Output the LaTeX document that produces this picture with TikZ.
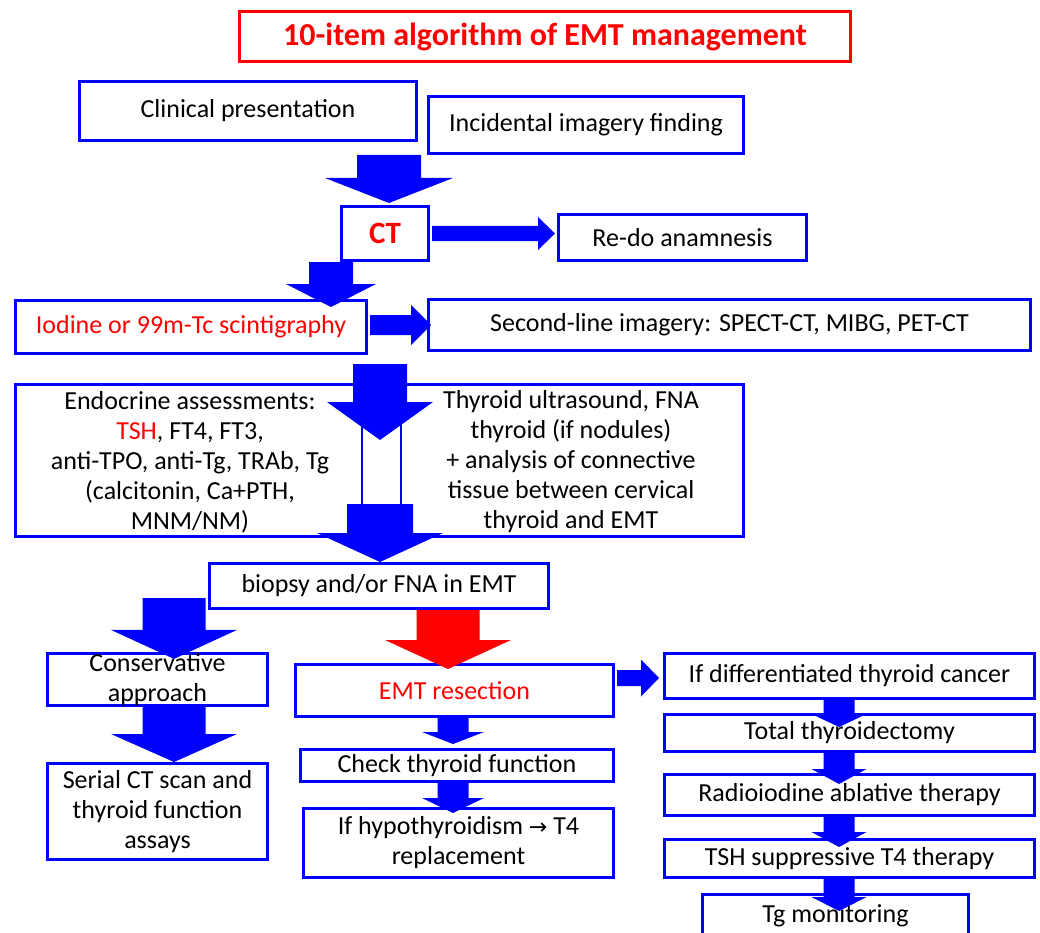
\documentclass[tikz,border=0pt]{standalone}
\usepackage{fontspec}
\setmainfont{Carlito}
\newfontfamily\symfont{DejaVu Sans}
\usetikzlibrary{calc}

\newcommand{\boxfont}{\fontsize{26}{30}\selectfont}

\tikzset{
  flowbox/.style={draw=blue, line width=3pt, fill=white, align=center, inner sep=1pt, font=\boxfont},
  titlebox/.style={draw=red, line width=3pt, fill=white, text=red, inner sep=1pt, font=\fontsize{32}{36}\selectfont\bfseries},
  plaintext/.style={align=center, inner sep=0pt, font=\boxfont},
  shaftline/.style={draw=blue, line width=2.5pt},
}

% block arrows: #2 tail, #3 tip, #4 half shaft, #5 half head, #6 head length
\newcommand{\fatdown}[6][blue]{%
  \fill[#1] let \p1=#2, \p2=#3 in
    (\x2-#4,\y1) -- (\x2+#4,\y1) -- (\x2+#4,\y2+#6) -- (\x2+#5,\y2+#6)
    -- (\x2,\y2) -- (\x2-#5,\y2+#6) -- (\x2-#4,\y2+#6) -- cycle;}
\newcommand{\fatright}[6][blue]{%
  \fill[#1] let \p1=#2, \p2=#3 in
    (\x1,\y2+#4) -- (\x1,\y2-#4) -- (\x2-#6,\y2-#4) -- (\x2-#6,\y2-#5)
    -- (\x2,\y2) -- (\x2-#6,\y2+#5) -- (\x2-#6,\y2+#4) -- cycle;}

\begin{document}
\begin{tikzpicture}[x=1pt, y=-1pt]
\useasboundingbox (0,0) rectangle (1040,933);
\clip (0,0) rectangle (1040,933);

% title
\node[titlebox, minimum width=611pt, minimum height=50pt] (title) at (545,36.5) {10-item algorithm of EMT management};

% first steps
\node[flowbox, minimum width=337pt, minimum height=59pt] (clin) at (248,111) {Clinical presentation};
\node[flowbox, minimum width=315pt, minimum height=57pt] (incid) at (586,125) {Incidental imagery finding};
\node[flowbox, minimum width=87pt, minimum height=54pt, font=\fontsize{31}{34}\selectfont\bfseries, text=red] (ct) at (385,233.5) {CT};
\node[flowbox, minimum width=248pt, minimum height=46pt] (redo) at (682.5,237.5) {Re-do anamnesis};
\node[flowbox, minimum width=351pt, minimum height=53pt, text=red] (iodine) at (191,327) {Iodine or 99m-Tc scintigraphy};
\node[flowbox, minimum width=602pt, minimum height=51pt] (second) at (729.5,325) {Second-line imagery: SPECT-CT, MIBG, PET-CT};

% assessments
\node[flowbox, minimum width=728pt, minimum height=152pt] (assess) at (379.5,460.5) {};
\node[plaintext] (endo) at (190,462) {Endocrine assessments:\\ \textcolor{red}{TSH}, FT4, FT3,\\ anti-TPO, anti-Tg, TRAb, Tg\\ (calcitonin, Ca+PTH,\\ MNM/NM)};
\node[plaintext] (thyr) at (571,462) {Thyroid ultrasound, FNA\\ thyroid (if nodules)\\ + analysis of connective\\ tissue between cervical\\ thyroid and EMT};
\node[flowbox, minimum width=339pt, minimum height=45pt] (biopsy) at (379,586) {biopsy and/or FNA in EMT};

% left branch
\node[flowbox, minimum width=220pt, minimum height=52pt, inner sep=0pt] (cons) at (157.5,679.5) {Conservative\\ approach};
\node[flowbox, minimum width=220pt, minimum height=96pt] (serial) at (157.5,811.5) {Serial CT scan and\\ thyroid function\\ assays};

% middle branch
\node[flowbox, minimum width=318pt, minimum height=52pt, text=red] (emtres) at (454.5,690.5) {EMT resection};
\node[flowbox, minimum width=313pt, minimum height=32pt, inner sep=0pt] (check) at (457,765.5) {Check thyroid function};
\node[flowbox, minimum width=310pt, minimum height=69pt] (hypo) at (458.5,843) {If hypothyroidism {\symfont\fontsize{22}{30}\selectfont →} T4\\ replacement};

% right branch
\node[flowbox, minimum width=370pt, minimum height=45pt] (diff) at (849.5,676) {If differentiated thyroid cancer};
\node[flowbox, minimum width=370pt, minimum height=37pt, inner sep=0pt] (total) at (849.5,733) {Total thyroidectomy};
\node[flowbox, minimum width=370pt, minimum height=41pt, inner sep=0pt] (radio) at (849.5,795) {Radioiodine ablative therapy};
\node[flowbox, minimum width=370pt, minimum height=38pt, inner sep=0pt] (tshs) at (849.5,858.5) {TSH suppressive T4 therapy};
\node[flowbox, minimum width=266pt, minimum height=43pt] (tgmon) at (835.5,916) {Tg monitoring};

% arrows
\fatdown{($(389,0 |- clin.south)+(0,13)$)}{($(389,0 |- ct.north)+(0,-2)$)}{32pt}{64pt}{25pt}
\fatright{([xshift=2pt]ct.east)}{($(redo.west |- ct.east)+(-2,0)$)}{7.5pt}{16.5pt}{17pt}
\fatdown{(331,0 |- ct.south)}{($(331,0 |- iodine.north)+(0,8)$)}{22pt}{45pt}{23pt}
\fatright{([xshift=2pt]iodine.east)}{($(second.west |- iodine.east)+(4,-2)$)}{10pt}{20pt}{20pt}

\coordinate (shafttop) at (380,402);
\coordinate (shaftbot) at (380,504);
\fatdown{($(380,0 |- assess.north)+(0,-19)$)}{($(380,0 |- shafttop)+(0,38)$)}{27pt}{53pt}{38pt}
\draw[shaftline] ([xshift=-18pt]shafttop) -- ([xshift=-18pt]shaftbot);
\draw[shaftline] ([xshift=21pt]shafttop) -- ([xshift=21pt]shaftbot);
\fatdown{(380,0 |- shaftbot)}{(380,0 |- biopsy.north)}{33pt}{63pt}{29pt}

\fatdown{($(174,0 |- biopsy.south)+(0,-12)$)}{($(174,0 |- cons.north)+(0,7)$)}{31.5pt}{63pt}{29pt}
\fatdown{(174,0 |- cons.south)}{(174,0 |- serial.north)}{31.5pt}{63pt}{28pt}
\fatdown[red]{(448,0 |- biopsy.south)}{($(448,0 |- emtres.north)+(0,6)$)}{31.5pt}{63pt}{29pt}
\fatdown{(453,0 |- emtres.south)}{($(453,0 |- check.north)+(0,-4)$)}{15.5pt}{31pt}{12pt}
\fatdown{(453,0 |- check.south)}{($(453,0 |- hypo.north)+(0,6)$)}{15.5pt}{31pt}{15pt}
\fatright{($(emtres.east |- diff.west)+(2,2)$)}{($(diff.west)+(-4,2)$)}{8pt}{18.5pt}{18pt}

\fatdown{(839,0 |- diff.south)}{($(839,0 |- total.north)+(0,14)$)}{15.5pt}{27.5pt}{13pt}
\fatdown{(839,0 |- total.south)}{($(839,0 |- radio.north)+(0,11)$)}{15.5pt}{27.5pt}{15pt}
\fatdown{(839,0 |- radio.south)}{($(839,0 |- tshs.north)+(0,9)$)}{15.5pt}{27.5pt}{15pt}
\fatdown{(839,0 |- tshs.south)}{($(839,0 |- tgmon.north)+(0,18)$)}{15.5pt}{27.5pt}{14pt}
\end{tikzpicture}
\end{document}
